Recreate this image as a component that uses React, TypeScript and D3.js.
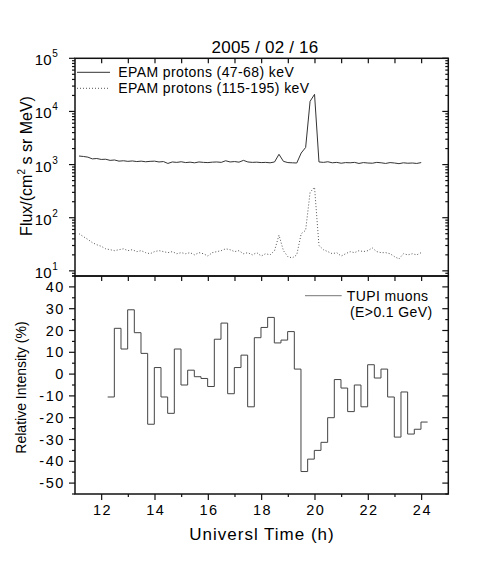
import React, { useEffect, useRef } from 'react';
import * as d3 from 'd3';

// EPAM samples every 10 min
const epamTimes = d3.range(78).map(i => 11.15 + i / 6);

const epamLow = [
    1450, 1420, 1380, 1280, 1300, 1250, 1260, 1200, 1220, 1160,
    1180, 1150, 1170, 1140, 1160, 1130, 1150, 1160, 1120, 1140,
    1050, 1120, 1100, 1130, 1090, 1110, 1080, 1120, 1100, 1090,
    1110, 1120, 1100, 1180, 1120, 1140, 1110, 1200, 1120, 1100,
    1110, 1090, 1100, 1080, 1120, 1560, 1150, 1090, 1080, 1070,
    1650, 2100, 15500, 21000, 1120, 1100, 1130, 1080, 1100, 1060,
    1090, 1080, 1100, 1050, 1090, 1070, 1060, 1100, 1080, 1050,
    1090, 1070, 1040, 1080, 1060, 1070, 1050, 1090
];

const epamHigh = [
    50, 44, 39, 34, 31, 29, 26, 25, 24, 25,
    26, 24, 25, 23, 24, 22, 21, 23, 24, 23,
    22, 23, 21, 22, 21, 22, 20, 22, 21, 19,
    22, 23, 24, 26, 25, 23, 24, 21, 22, 20,
    22, 19, 21, 20, 24, 47, 24, 18.5, 17.5, 20,
    50, 58, 300, 375, 30, 25, 23, 21, 22, 19,
    21, 23, 22, 24, 23, 24, 27, 23, 22, 22,
    21, 18.5, 16.8, 21, 20, 21, 20, 22
];

// TUPI muons, 15 min bins
const muonTimes = d3.range(49).map(i => 12.225 + i * 0.25);
const muonValues = [
    -10.5, 21, 11.5, 29.5, 19, 9.5, -23, 3, -10.5, -18,
    11.5, -5, 1.8, -1.2, -2, -5.7, 16, 23.4, -9, 3,
    8.7, -15, 16.7, 21.4, 26, 14.3, 15.6, 19.5, 2.3, -44.7,
    -39, -35, -31.3, -20, -2.5, -6.4, -17.2, -5, -15, 4.3,
    -1.8, 2.3, -10.5, -28.9, -8.2, -27.5, -25.3, -22
];

const hourLabels = [12, 14, 16, 18, 20, 22, 24];
const decades = [10, 100, 1000, 10000, 100000];
const intensityLabels = [-50, -40, -30, -20, -10, 0, 10, 20, 30, 40];

export default function App() {
    const chart = useRef<SVGSVGElement>(null);

    useEffect(() => {
        const svg = d3.select(chart.current);
        svg.selectAll('*').remove();

        const left = 75, right = 448.3, top = 58.3, mid = 276, bottom = 494;
        const font = 'Liberation Sans, Arial, Helvetica, sans-serif';

        const x = d3.scaleLinear().domain([11, 25]).range([left, right]);
        const yFlux = d3.scaleLog().domain([8, 1e5]).range([mid, top]);
        const yRel = d3.scaleLinear().domain([-55, 45]).range([bottom, mid]);

        // tick helper: vertical or horizontal short lines
        const ticks = (vals, pos, at, dir, len, vertical) => {
            svg.append('g')
                .selectAll('line')
                .data(vals)
                .join('line')
                .attr('x1', d => vertical ? pos(d) : at)
                .attr('x2', d => vertical ? pos(d) : at + dir * len)
                .attr('y1', d => vertical ? at : pos(d))
                .attr('y2', d => vertical ? at + dir * len : pos(d))
                .attr('stroke', '#111')
                .attr('stroke-width', 1.2);
        };

        const allHours = d3.range(12, 25);
        const evenHours = allHours.filter(h => h % 2 === 0);
        const oddHours = allHours.filter(h => h % 2 === 1);

        // log minor ticks
        const logMinor = [];
        [1, 10, 100, 1000, 10000].forEach(d => {
            for (let m = 2; m <= 9; m++) {
                if (d * m >= 8 && d * m < 1e5) logMinor.push(d * m);
            }
        });

        // top panel ticks
        ticks(allHours, x, top, 1, 5, true);
        ticks(decades, yFlux, left, -1, 6, false);
        ticks(logMinor, yFlux, left, -1, 3, false);
        ticks(decades, yFlux, right, -1, 6, false);
        ticks(logMinor, yFlux, right, -1, 3, false);

        // bottom panel ticks
        const fives = d3.range(-55, 46, 5).filter(v => v % 10 !== 0);
        const tens = d3.range(-50, 41, 10);
        ticks(allHours, x, mid, 1, 5, true);
        ticks(evenHours, x, bottom, 1, 6, true);
        ticks(oddHours, x, bottom, 1, 3, true);
        ticks(tens, yRel, left, -1, 6, false);
        ticks(fives, yRel, left, -1, 3, false);
        ticks(tens, yRel, right, -1, 6, false);
        ticks(fives, yRel, right, -1, 3, false);

        // data lines
        const fluxLine = d3.line()
            .x((d, i) => x(epamTimes[i]))
            .y(d => yFlux(d));

        svg.append('path')
            .attr('d', fluxLine(epamLow))
            .attr('fill', 'none')
            .attr('stroke', '#333')
            .attr('stroke-width', 1);

        svg.append('path')
            .attr('d', fluxLine(epamHigh))
            .attr('fill', 'none')
            .attr('stroke', '#555')
            .attr('stroke-width', 1)
            .attr('stroke-dasharray', '1,2');

        const muonLine = d3.line()
            .x((d, i) => x(muonTimes[i]))
            .y(d => yRel(d))
            .curve(d3.curveStepAfter);

        svg.append('path')
            .attr('d', muonLine([...muonValues, muonValues[muonValues.length - 1]]))
            .attr('fill', 'none')
            .attr('stroke', '#444')
            .attr('stroke-width', 1);

        // frames
        [[top, mid], [mid, bottom]].forEach(([a, b]) => {
            svg.append('rect')
                .attr('x', left).attr('y', a)
                .attr('width', right - left).attr('height', b - a)
                .attr('fill', 'none')
                .attr('stroke', '#111')
                .attr('stroke-width', 1.5);
        });

        // flux labels 10^n
        const dec = svg.append('g').selectAll('g').data(decades).join('g');
        dec.append('text')
            .attr('x', 51.5)
            .attr('y', d => yFlux(d) + 7)
            .attr('text-anchor', 'end')
            .attr('font-family', font)
            .attr('font-size', 15)
            .text('10');
        dec.append('text')
            .attr('x', 52.3)
            .attr('y', d => yFlux(d) - 1)
            .attr('font-family', font)
            .attr('font-size', 10)
            .text(d => Math.round(Math.log10(d)));

        // intensity labels
        svg.append('g').selectAll('text')
            .data(intensityLabels)
            .join('text')
            .attr('x', 65)
            .attr('y', d => yRel(d) + 5)
            .attr('text-anchor', 'end')
            .attr('font-family', font)
            .attr('font-size', 14.5)
            .attr('letter-spacing', 1.6)
            .text(d => d);

        // hour labels
        svg.append('g').selectAll('text')
            .data(hourLabels)
            .join('text')
            .attr('x', d => x(d) + 0.8)
            .attr('y', 515)
            .attr('text-anchor', 'middle')
            .attr('font-family', font)
            .attr('font-size', 14.5)
            .attr('letter-spacing', 1.5)
            .text(d => d);

        // titles
        svg.append('text')
            .attr('x', 265).attr('y', 53.3)
            .attr('text-anchor', 'middle')
            .attr('font-family', font)
            .attr('font-size', 17)
            .attr('letter-spacing', 0.2)
            .text('2005 / 02 / 16');

        svg.append('text')
            .attr('x', 262).attr('y', 540)
            .attr('text-anchor', 'middle')
            .attr('font-family', font)
            .attr('font-size', 17)
            .attr('letter-spacing', 1)
            .text('Universl Time (h)');

        const fluxTitle = svg.append('text')
            .attr('transform', 'translate(31.5,166) rotate(-90)')
            .attr('text-anchor', 'middle')
            .attr('font-family', font)
            .attr('font-size', 16);
        fluxTitle.append('tspan').text('Flux/(cm');
        fluxTitle.append('tspan').attr('font-size', 10).attr('dy', -7).text('2');
        fluxTitle.append('tspan').attr('dy', 7).text(' s sr MeV)');

        svg.append('text')
            .attr('transform', 'translate(26,387.5) rotate(-90)')
            .attr('text-anchor', 'middle')
            .attr('font-family', font)
            .attr('font-size', 14)
            .text('Relative Intensity (%)');

        // legends
        const legend = [
            { y: 72.3, label: 'EPAM protons (47-68) keV', dash: null, color: '#333' },
            { y: 88.3, label: 'EPAM protons (115-195) keV', dash: '1,2', color: '#555' }
        ];
        legend.forEach(l => {
            svg.append('line')
                .attr('x1', 77).attr('x2', 110)
                .attr('y1', l.y).attr('y2', l.y)
                .attr('stroke', l.color)
                .attr('stroke-width', 1)
                .attr('stroke-dasharray', l.dash);
            svg.append('text')
                .attr('x', 118.3).attr('y', l.y + 5)
                .attr('font-family', font)
                .attr('font-size', 14)
                .attr('letter-spacing', 0.4)
                .text(l.label);
        });

        svg.append('line')
            .attr('x1', 305).attr('x2', 341.7)
            .attr('y1', 295.7).attr('y2', 295.7)
            .attr('stroke', '#777')
            .attr('stroke-width', 1);
        svg.append('text')
            .attr('x', 346.7).attr('y', 300.5)
            .attr('font-family', font)
            .attr('font-size', 14)
            .attr('letter-spacing', 0.4)
            .text('TUPI muons');
        svg.append('text')
            .attr('x', 350).attr('y', 316.5)
            .attr('font-family', font)
            .attr('font-size', 14)
            .attr('letter-spacing', 0.4)
            .text('(E>0.1 GeV)');
    }, []);

    return (
        <svg
            ref={chart}
            width={498}
            height={581}
            style={{ position: 'absolute', left: 0, top: 0, background: '#fff' }}
        />
    );
}
